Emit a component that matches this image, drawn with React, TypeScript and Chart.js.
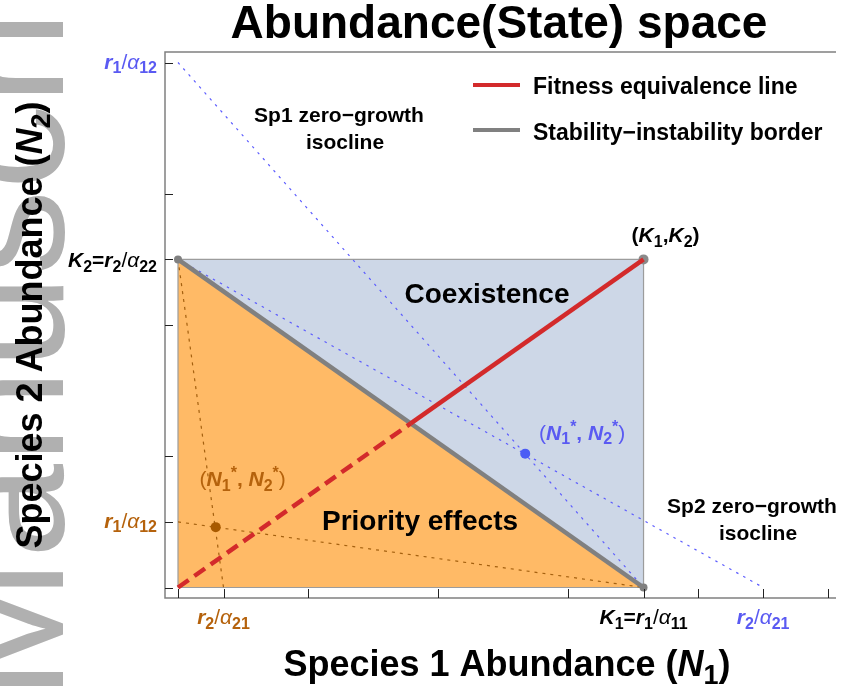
import React, { useEffect, useRef } from "react";
import { Chart, registerables } from "chart.js";
Chart.register(...registerables);

// ---- values (data units) ----
const K1 = 3.58; // K1 = r1/α11
const K2 = 2.5; // K2 = r2/α22
const coexR1A12 = 4.0; // blue r1/α12 (N2 intercept of Sp1 isocline)
const coexR2A21 = 4.5; // blue r2/α21 (N1 intercept of Sp2 isocline)
const prioR1A12 = 0.5; // orange r1/α12
const prioR2A21 = 0.35; // orange r2/α21
const eqCoex = [2.67, 1.02]; // blue (N1*, N2*)
const eqPrio = [0.29, 0.46]; // orange (N1*, N2*)

const xTicks = [0, 0.35, 1, 2, 3, 3.58, 4, 4.5, 5];
const yTicks = [0, 0.5, 1, 2, 2.5, 3, 4];
const xRange = [-0.1, 5.06];
const yRange = [-0.08, 4.08];

type Part = [string, string];
const R2A21: Part[] = [["r", "bi"], ["2", "sub"], ["/", "r"], ["α", "i"], ["21", "sub"]];
const R1A12: Part[] = [["r", "bi"], ["1", "sub"], ["/", "r"], ["α", "i"], ["12", "sub"]];
const K2LBL: Part[] = [["K", "bi"], ["2", "sub"], ["=", "b"], ["r", "bi"], ["2", "sub"], ["/", "r"], ["α", "i"], ["22", "sub"]];
const K1LBL: Part[] = [["K", "bi"], ["1", "sub"], ["=", "b"], ["r", "bi"], ["1", "sub"], ["/", "r"], ["α", "i"], ["11", "sub"]];
const K1K2LBL: Part[] = [["(", "b"], ["K", "bi"], ["1", "sub"], [",", "b"], ["K", "bi"], ["2", "sub"], [")", "b"]];
const NSTAR: Part[] = [["(", "r"], ["N", "bi"], ["1", "sub"], ["*", "sup"], [", ", "b"], ["N", "bi"], ["2", "sub"], ["*", "sup"], [")", "r"]];
const XTITLE: Part[] = [["Species 1 Abundance (", "b"], ["N", "bi"], ["1", "sub"], [")", "b"]];
const YTITLE: Part[] = [["Species 2 Abundance (", "b"], ["N", "bi"], ["2", "sub"], [")", "b"]];

const BLUE_T = "#5a5af2";
const ORANGE_T = "#b5620c";
const BLUE_L = "#5c5cff";
const ORANGE_L = "#a4600f";
const RED = "#d32a2b";
const GRAY = "#808080";
const FAM = '"Liberation Sans", Arial, sans-serif';

function fontFor(style: string, size: number) {
  switch (style) {
    case "b": return `bold ${size}px ${FAM}`;
    case "bi": return `italic bold ${size}px ${FAM}`;
    case "i": return `italic ${size}px ${FAM}`;
    case "sub": return `bold ${Math.round(size * 0.76)}px ${FAM}`;
    case "sup": return `bold ${Math.round(size * 0.74)}px ${FAM}`;
    default: return `${size}px ${FAM}`;
  }
}
function dyFor(style: string, size: number) {
  if (style === "sub") return size * 0.22;
  if (style === "sup") return -size * 0.38;
  return 0;
}
function drawRich(ctx: CanvasRenderingContext2D, parts: Part[], x: number, y: number, size: number, color: string, align: string) {
  ctx.save();
  ctx.textBaseline = "alphabetic";
  ctx.textAlign = "left";
  let w = 0;
  for (const [t, s] of parts) { ctx.font = fontFor(s, size); w += ctx.measureText(t).width; }
  let cx = align === "center" ? x - w / 2 : align === "right" ? x - w : x;
  ctx.fillStyle = color;
  for (const [t, s] of parts) {
    ctx.font = fontFor(s, size);
    ctx.fillText(t, cx, y + dyFor(s, size));
    cx += ctx.measureText(t).width;
  }
  ctx.restore();
}
function text(ctx: CanvasRenderingContext2D, t: string, x: number, y: number, size: number, color = "#000", align: CanvasTextAlign = "center", weight = "bold") {
  ctx.save();
  ctx.font = `${weight} ${size}px ${FAM}`;
  ctx.fillStyle = color;
  ctx.textAlign = align;
  ctx.textBaseline = "alphabetic";
  ctx.fillText(t, x, y);
  ctx.restore();
}

const decor = {
  id: "decor",
  beforeDraw(chart: any) {
    const ctx: CanvasRenderingContext2D = chart.ctx;
    ctx.save();
    ctx.fillStyle = "#fff";
    ctx.fillRect(0, 0, chart.width, chart.height);
    // watermark
    ctx.translate(63, 700);
    ctx.rotate(-Math.PI / 2);
    ctx.font = `170px ${FAM}`;
    ctx.fillStyle = "#b0b0b0";
    ctx.textBaseline = "alphabetic";
    ctx.fillText("Manuscript", 0, 0);
    ctx.restore();
  },
  afterDatasetsDraw(chart: any) {
    const ctx: CanvasRenderingContext2D = chart.ctx;
    const xs = chart.scales.x, ys = chart.scales.y;
    const a = chart.chartArea;
    // frame
    ctx.save();
    ctx.strokeStyle = GRAY;
    ctx.lineWidth = 1.5;
    ctx.beginPath();
    ctx.moveTo(a.right, a.top); ctx.lineTo(a.left, a.top); ctx.lineTo(a.left, a.bottom); ctx.lineTo(a.right, a.bottom);
    ctx.stroke();
    ctx.strokeStyle = "#222";
    ctx.lineWidth = 1;
    for (const v of xTicks) {
      const px = Math.round(xs.getPixelForValue(v)) + 0.5;
      ctx.beginPath(); ctx.moveTo(px, a.bottom); ctx.lineTo(px, a.bottom - 9); ctx.stroke();
    }
    for (const v of yTicks) {
      const py = Math.round(ys.getPixelForValue(v)) + 0.5;
      ctx.beginPath(); ctx.moveTo(a.left, py); ctx.lineTo(a.left + 8, py); ctx.stroke();
    }
    ctx.restore();
    // tick labels
    const lx = a.left - 8;
    drawRich(ctx, R1A12, lx, ys.getPixelForValue(coexR1A12) + 6, 21, BLUE_T, "right");
    drawRich(ctx, K2LBL, lx, ys.getPixelForValue(K2) + 8, 21, "#000", "right");
    drawRich(ctx, R1A12, lx, ys.getPixelForValue(prioR1A12) + 6, 21, ORANGE_T, "right");
    const by = a.bottom + 26;
    drawRich(ctx, R2A21, xs.getPixelForValue(prioR2A21), by, 21, ORANGE_T, "center");
    drawRich(ctx, K1LBL, xs.getPixelForValue(K1), by, 21, "#000", "center");
    drawRich(ctx, R2A21, xs.getPixelForValue(coexR2A21), by, 21, BLUE_T, "center");
    // legend
    ctx.save();
    ctx.lineWidth = 4;
    ctx.strokeStyle = RED;
    ctx.beginPath(); ctx.moveTo(473, 85); ctx.lineTo(520, 85); ctx.stroke();
    ctx.strokeStyle = GRAY;
    ctx.beginPath(); ctx.moveTo(473, 130); ctx.lineTo(520, 130); ctx.stroke();
    ctx.restore();
    text(ctx, "Fitness equivalence line", 533, 94, 23, "#000", "left");
    text(ctx, "Stability\u2212instability border", 533, 140, 23, "#000", "left");
    // annotations
    text(ctx, "Sp1 zero\u2212growth", 339, 122, 21);
    text(ctx, "isocline", 345, 149, 21);
    text(ctx, "Sp2 zero\u2212growth", 752, 513, 21);
    text(ctx, "isocline", 758, 540, 21);
    text(ctx, "Coexistence", 487, 303, 28);
    text(ctx, "Priority effects", 420, 530, 28);
    drawRich(ctx, K1K2LBL, xs.getPixelForValue(K1) + 22, ys.getPixelForValue(K2) - 17, 21, "#000", "center");
    drawRich(ctx, NSTAR, xs.getPixelForValue(eqCoex[0]) + 57, ys.getPixelForValue(eqCoex[1]) - 14, 21, BLUE_T, "center");
    drawRich(ctx, NSTAR, xs.getPixelForValue(eqPrio[0]) + 27, ys.getPixelForValue(eqPrio[1]) - 41, 21, ORANGE_T, "center");
    // titles
    text(ctx, "Abundance(State) space", 499, 38, 46);
    drawRich(ctx, XTITLE, 507, 676, 36, "#000", "center");
    ctx.save();
    ctx.translate(42, 325);
    ctx.rotate(-Math.PI / 2);
    drawRich(ctx, YTITLE, 0, 0, 36, "#000", "center");
    ctx.restore();
  },
};

export default function App() {
  const ref = useRef<HTMLCanvasElement>(null);
  useEffect(() => {
    document.body.style.margin = "0";
    const mid = { x: K1 / 2, y: K2 / 2 };
    const line = (data: any[], extra: any) => ({
      data, showLine: true, pointRadius: 0, borderWidth: 1, fill: false, ...extra,
    });
    const chart = new Chart(ref.current!, {
      type: "scatter",
      data: {
        datasets: [
          line([{ x: 0, y: K2 }, { x: K1, y: 0 }], { fill: "origin", backgroundColor: "#ffba66", borderWidth: 0, order: 20 }),
          line([{ x: 0, y: K2 }, { x: K1, y: 0 }], { fill: { value: K2 }, backgroundColor: "#cdd7e7", borderWidth: 0, order: 19 }),
          line([{ x: 0, y: 0 }, { x: 0, y: K2 }, { x: K1, y: K2 }, { x: K1, y: 0 }, { x: 0, y: 0 }], { borderColor: "#9c9c9c", borderWidth: 1.2, order: 18 }),
          line([{ x: 0, y: coexR1A12 }, { x: K1, y: 0 }], { borderColor: BLUE_L, borderWidth: 1.2, borderDash: [2.5, 5.5], order: 10 }),
          line([{ x: 0, y: K2 }, { x: coexR2A21, y: 0 }], { borderColor: BLUE_L, borderWidth: 1.2, borderDash: [2.5, 5.5], order: 10 }),
          line([{ x: 0, y: prioR1A12 }, { x: K1, y: 0 }], { borderColor: ORANGE_L, borderWidth: 1.2, borderDash: [3, 5], order: 10 }),
          line([{ x: 0, y: K2 }, { x: prioR2A21, y: 0 }], { borderColor: ORANGE_L, borderWidth: 1.2, borderDash: [3, 5], order: 10 }),
          line([{ x: 0, y: K2 }, { x: K1, y: 0 }], { borderColor: GRAY, borderWidth: 4.5, pointRadius: 4, pointBackgroundColor: GRAY, pointBorderWidth: 0, order: 6 }),
          { data: [{ x: K1, y: K2 }], pointRadius: 5, pointBackgroundColor: "#8a8a8a", pointBorderWidth: 0, order: 5 },
          line([{ x: 0, y: 0 }, mid], { borderColor: RED, borderWidth: 4.5, borderDash: [13, 7], order: 4 }),
          line([mid, { x: K1, y: K2 }], { borderColor: RED, borderWidth: 4.5, order: 4 }),
          { data: [{ x: eqCoex[0], y: eqCoex[1] }], pointRadius: 5, pointBackgroundColor: "#4b5cf5", pointBorderWidth: 0, order: 1 },
          { data: [{ x: eqPrio[0], y: eqPrio[1] }], pointRadius: 5, pointBackgroundColor: "#a85a00", pointBorderWidth: 0, order: 1 },
        ] as any,
      },
      options: {
        responsive: false,
        animation: false,
        layout: { padding: { left: 165, right: 0, top: 52, bottom: 92 } },
        scales: {
          x: { type: "linear", min: xRange[0], max: xRange[1], display: false },
          y: { type: "linear", min: yRange[0], max: yRange[1], display: false },
        },
        plugins: { legend: { display: false }, tooltip: { enabled: false } },
      },
      plugins: [decor],
    });
    return () => chart.destroy();
  }, []);
  return (
    <div style={{ position: "absolute", left: 0, top: 0, width: 841, height: 690 }}>
      <canvas ref={ref} width={841} height={690} style={{ display: "block" }} />
    </div>
  );
}
